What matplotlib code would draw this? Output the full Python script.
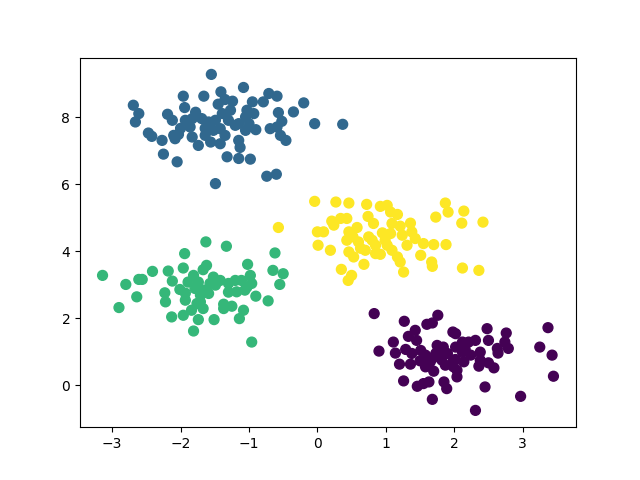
import numpy as np
import matplotlib
matplotlib.use('Agg')
import matplotlib.pyplot as plt

# points, one cluster per pair of lists
purple_x = [0.83, 1.27, 1.76, 1.60, 1.68, 1.43, 1.98, 1.33, 1.45, 1.11, 0.90, 1.14, 1.29, 1.38,
            1.75, 1.84, 1.73, 1.80, 1.90, 2.02, 1.20, 1.36, 1.50, 1.58, 1.65, 1.68, 1.82, 1.99,
            1.99, 2.04, 1.26, 1.46, 1.55, 1.63, 1.85, 1.89, 1.68, 2.48, 2.76, 3.37, 2.02, 2.12,
            2.21, 2.31, 2.50, 2.74, 2.63, 2.79, 2.64, 2.16, 2.38, 3.25, 3.43, 2.24, 2.14, 2.38,
            2.36, 2.50, 2.58, 2.02, 2.04, 3.45, 2.45, 2.97, 2.31, 1.51, 1.58, 1.87, 1.70, 2.12]
purple_y = [2.14, 1.91, 2.09, 1.82, 1.86, 1.64, 1.59, 1.46, 1.34, 1.29, 1.02, 0.96, 1.07, 0.95,
            1.19, 1.14, 0.95, 0.90, 0.95, 1.14, 0.63, 0.63, 0.73, 0.55, 0.70, 0.80, 0.75, 0.75,
            0.55, 0.25, 0.13, -0.03, 0.05, 0.10, 0.10, -0.10, -0.42, 1.69, 1.56, 1.72, 1.54, 1.29,
            1.29, 1.34, 1.34, 1.29, 1.10, 1.10, 0.96, 1.07, 0.99, 1.14, 0.90, 0.90, 0.70, 0.75,
            0.57, 0.67, 0.52, 0.77, 0.45, 0.27, -0.05, -0.33, -0.75, 1.04, 0.90, 0.60, 0.42, 0.99]

blue_x = [-1.55, -2.69, -2.61, -2.66, -1.96, -1.94, -1.66, -1.41, -1.35, -2.19, -2.47, -2.42,
          -2.27, -2.10, -2.03, -2.08, -2.25, -2.05, -1.49, -1.83, -1.86, -1.83, -1.74, -1.69,
          -1.59, -1.56, -1.42, -1.52, -1.42, -1.39, -1.27, -1.32, -1.15, -1.15, -1.08, -0.71,
          -0.59, -0.95, -0.79, -0.20, -0.35, -0.57, -1.03, -0.93, -1.05, -0.52, -0.04, 0.37,
          -1.15, -1.00, -0.90, -0.69, -0.59, -0.54, -0.46, -1.13, -0.98, -0.74, -0.60,
          -1.78, -1.64, -1.49, -1.30, -1.20, -1.35, -1.64, -1.05, -1.24, -1.45, -1.93, -2.12, -2.00]
blue_y = [9.28, 8.36, 8.11, 7.86, 8.63, 8.29, 8.63, 8.76, 8.53, 8.09, 7.53, 7.43,
          7.31, 7.46, 7.49, 7.36, 6.90, 6.67, 6.02, 7.96, 7.71, 7.41, 7.16, 7.96,
          7.86, 7.26, 7.21, 7.61, 7.66, 8.11, 8.21, 6.82, 6.77, 7.31, 8.89, 8.71,
          8.63, 8.46, 8.46, 8.43, 8.16, 8.14, 8.21, 8.11, 8.01, 7.88, 7.81, 7.79,
          7.81, 7.81, 7.63, 7.66, 7.71, 7.46, 7.31, 7.10, 6.75, 6.24, 6.30,
          8.15, 7.67, 7.91, 7.91, 7.76, 7.46, 7.46, 7.61, 8.48, 8.39, 7.91, 7.91, 7.67]

green_x = [-3.14, -1.94, -1.96, -2.41, -2.18, -2.80, -2.61, -2.56, -2.64, -2.90, -2.12, -2.23,
           -2.22, -2.01, -1.89, -1.81, -2.13, -1.96, -1.81, -1.93, -1.84, -1.76, -1.63, -1.33,
           -0.62, -1.02, -1.62, -1.67, -0.65, -0.50, -0.55, -1.52, -1.57, -1.74, -1.79, -1.67,
           -1.59, -1.30, -1.20, -1.11, -0.98, -0.96, -1.18, -1.06, -1.03, -0.90, -0.72, -1.37,
           -1.25, -1.37, -1.71, -1.67, -1.08, -1.14, -1.51, -1.74, -0.96,
           -1.49, -1.42, -1.71, -1.93, -1.30]
green_y = [3.28, 3.93, 3.50, 3.40, 3.41, 3.01, 3.16, 3.16, 2.64, 2.32, 3.11, 2.76,
           2.49, 2.86, 3.08, 3.28, 2.04, 2.09, 1.62, 2.54, 2.24, 2.44, 4.28, 4.15,
           3.95, 3.61, 3.58, 3.45, 3.43, 3.33, 3.01, 3.23, 3.04, 3.08, 2.89, 2.84,
           2.74, 3.04, 3.13, 3.13, 3.28, 3.04, 2.79, 2.84, 2.93, 2.66, 2.52, 2.42,
           2.36, 2.29, 2.49, 2.29, 2.24, 1.99, 1.96, 1.96, 1.29,
           2.99, 3.13, 2.69, 2.75, 2.78]

yellow_x = [-0.57, -0.04, 0.27, 0.46, 0.72, 0.92, 0.74, 0.21, 0.34, 0.43, 0.24, 0.00, 0.09,
            0.01, 0.19, 0.46, 0.58, 0.52, 0.43, 0.60, 0.75, 0.80, 0.82, 0.46, 0.53, 0.70,
            0.68, 0.85, 0.35, 0.50, 0.45, 1.02, 1.07, 1.17, 1.87, 1.91, 2.14, 1.73, 2.11,
            2.42, 1.36, 1.09, 1.21, 0.95, 1.07, 1.24, 1.38, 1.43, 1.02, 1.31, 1.55, 1.70,
            1.88, 0.92, 1.09, 1.17, 1.21, 1.51, 1.67, 1.68, 1.26, 2.12, 2.36, 0.99, 0.63, 0.85]
yellow_y = [4.71, 5.49, 5.47, 5.44, 5.40, 5.34, 5.04, 4.90, 4.98, 4.98, 4.78, 4.58, 4.58,
            4.18, 4.03, 4.58, 4.71, 4.43, 4.33, 4.28, 4.43, 4.33, 4.83, 3.98, 3.83, 4.03,
            3.61, 3.93, 3.46, 3.28, 3.13, 5.37, 5.17, 5.10, 5.44, 5.17, 5.20, 5.02, 4.84,
            4.87, 4.84, 4.83, 4.75, 4.55, 4.53, 4.48, 4.58, 4.38, 4.18, 4.18, 4.23, 4.20,
            4.20, 3.91, 4.03, 3.83, 3.68, 3.88, 3.68, 3.55, 3.38, 3.50, 3.43, 4.33, 4.09, 4.18]

clusters = [(purple_x, purple_y), (blue_x, blue_y), (green_x, green_y), (yellow_x, yellow_y)]

X = np.concatenate([c[0] for c in clusters])
Y = np.concatenate([c[1] for c in clusters])
labels = np.concatenate([[i] * len(c[0]) for i, c in enumerate(clusters)])

fig = plt.figure(figsize=(6.4, 4.8), dpi=100)
plt.scatter(X, Y, c=labels, s=50, cmap='viridis')
plt.savefig('out.png')
